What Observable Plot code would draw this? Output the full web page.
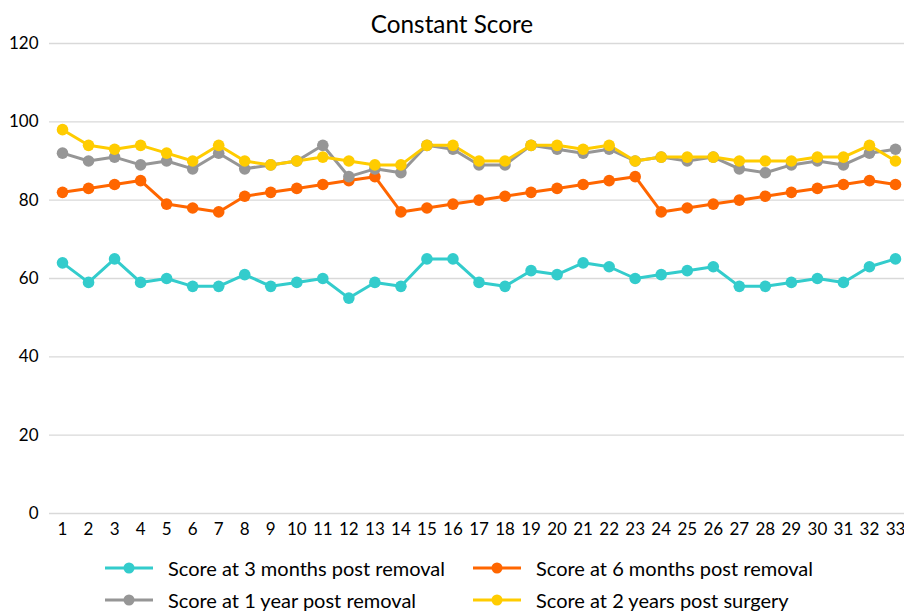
<!DOCTYPE html>
<html>
<head>
<meta charset="utf-8">
<script src="https://cdn.jsdelivr.net/npm/d3@7"></script>
<script src="https://cdn.jsdelivr.net/npm/@observablehq/plot@0.6"></script>
<style>
  html, body { margin: 0; padding: 0; background: #fff; }
  body { width: 904px; height: 611px; overflow: hidden; font-family: Lato, "Open Sans", sans-serif; color: #000; }
  #title { height: 34px; box-sizing: border-box; padding-top: 11px; font-size: 24.3px; line-height: 26px; text-align: center; }
  #chart svg { display: block; }
  #legend { padding-top: 7px; padding-left: 105px; display: flex; flex-wrap: wrap; width: 904px; box-sizing: border-box; }
  .item { width: 368px; height: 32px; display: flex; align-items: center; font-size: 20px; white-space: nowrap; }
  .item svg { margin-right: 15px; flex: none; }
</style>
</head>
<body>
<div id="title">Constant Score</div>
<div id="chart"></div>
<div id="legend"></div>
<script>
const patients = d3.range(1, 34);
const seriesNames = [
  "Score at 3 months post removal",
  "Score at 6 months post removal",
  "Score at 1 year post removal",
  "Score at 2 years post surgery"
];
const seriesColors = ["#33CCCC", "#FF6600", "#969696", "#FFCC00"];
const months3 = [64,59,65,59,60,58,58,61,58,59,60,55,59,58,65,65,59,58,62,61,64,63,60,61,62,63,58,58,59,60,59,63,65];
const months6 = [82,83,84,85,79,78,77,81,82,83,84,85,86,77,78,79,80,81,82,83,84,85,86,77,78,79,80,81,82,83,84,85,84];
const year1   = [92,90,91,89,90,88,92,88,89,90,94,86,88,87,94,93,89,89,94,93,92,93,90,91,90,91,88,87,89,90,89,92,93];
const years2  = [98,94,93,94,92,90,94,90,89,90,91,90,89,89,94,94,90,90,94,94,93,94,90,91,91,91,90,90,90,91,91,94,90];
const yTicks = [0, 20, 40, 60, 80, 100, 120];

const allSeries = [months3, months6, year1, years2];
const data = [];
allSeries.forEach((vals, s) => vals.forEach((v, i) => data.push({patient: patients[i], value: v, series: seriesNames[s]})));

const plot = Plot.plot({
  width: 904,
  height: 511,
  marginTop: 9,
  marginBottom: 32,
  marginLeft: 49,
  marginRight: 0,
  style: { fontFamily: "Lato, 'Open Sans', sans-serif", fontSize: "17px", color: "#000", overflow: "visible" },
  x: { domain: [0.5, 33.5], range: [49, 908], ticks: patients, tickFormat: d => String(d), tickSize: 0, tickPadding: 9, label: null },
  y: { domain: [0, 120], ticks: yTicks, tickSize: 0, tickPadding: 11, label: null },
  color: { domain: seriesNames, range: seriesColors },
  marks: [
    Plot.gridY(yTicks, { stroke: "#d9d9d9", strokeOpacity: 1, strokeWidth: 1.3 }),
    Plot.axisY(yTicks, { tickSize: 0, tickPadding: 11, fontSize: 17 }),
    Plot.axisX(patients, { tickSize: 0, tickPadding: 9, fontSize: 17 }),
    Plot.line(data, { x: "patient", y: "value", z: "series", stroke: "series", strokeWidth: 3, curve: "linear" }),
    Plot.dot(data, { x: "patient", y: "value", fill: "series", r: 5.8, stroke: "none" })
  ]
});
document.getElementById("chart").appendChild(plot);

const legend = document.getElementById("legend");
seriesNames.forEach((name, i) => {
  const item = document.createElement("div");
  item.className = "item";
  const c = seriesColors[i];
  item.innerHTML = `<svg width="48" height="14"><line x1="0" x2="48" y1="7" y2="7" stroke="${c}" stroke-width="3"/><circle cx="24" cy="7" r="5.5" fill="${c}"/></svg><span>${name}</span>`;
  legend.appendChild(item);
});
</script>
</body>
</html>
